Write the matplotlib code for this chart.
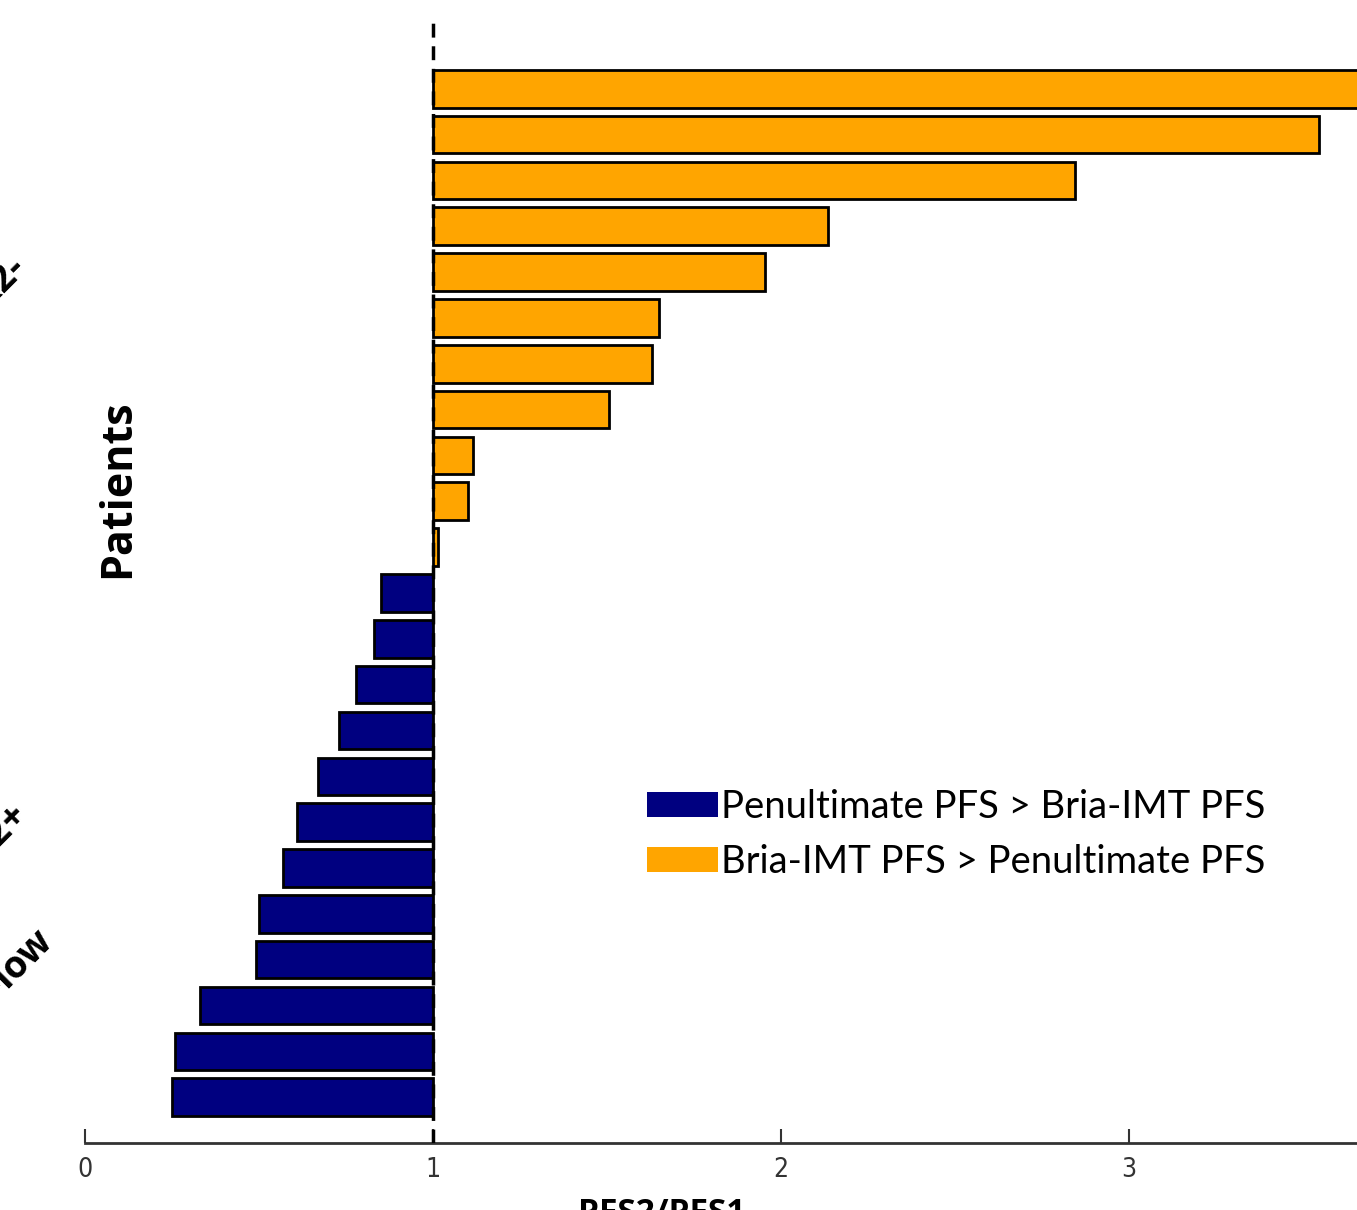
import matplotlib.pyplot as plt
from matplotlib.patches import Patch

# PFS2/PFS1 ratio per patient, bottom bar first
ratio_worse = [0.25, 0.26, 0.33, 0.49, 0.50, 0.57, 0.61, 0.67, 0.73, 0.78, 0.83, 0.85]
ratio_better = [1.014, 1.10, 1.115, 1.505, 1.63, 1.65, 1.955, 2.135, 2.845, 3.545, 3.80]

x_ticks = [0, 1, 2, 3]
legend_labels = ['Penultimate PFS > Bria-IMT PFS', 'Bria-IMT PFS > Penultimate PFS']
group_labels = ['HER2-', 'HER2+', 'HER2-low']

blue = '#000080'
orange = '#FFA500'

plt.rcParams['font.family'] = ['Lato', 'DejaVu Sans']

fig = plt.figure(figsize=(13.57, 12.10), dpi=100)
ax = fig.add_axes([85 / 1357, 67 / 1210, 1272 / 1357, 1123 / 1210])

n_worse = len(ratio_worse)
ypos_worse = list(range(n_worse))
ypos_better = list(range(n_worse, n_worse + len(ratio_better)))

ax.barh(ypos_worse, [r - 1 for r in ratio_worse], left=1, height=0.82,
        color=blue, edgecolor='black', linewidth=2, zorder=2)
ax.barh(ypos_better, [r - 1 for r in ratio_better], left=1, height=0.82,
        color=orange, edgecolor='black', linewidth=2, zorder=2)

# reference line at ratio = 1
ax.axvline(1, color='black', linestyle=(0, (4, 2.5)), linewidth=2.5, zorder=3)

ax.set_xlim(0, 3.655)
ax.set_ylim(-1, 23.5)
ax.set_xticks(x_ticks)
ax.set_xticklabels([str(t) for t in x_ticks], fontsize=19, color='#333333',
                   family='DejaVu Sans', fontstretch='condensed')
ax.tick_params(axis='x', direction='in', length=10, width=1.5, color='#333333', pad=10)
ax.set_yticks([])
for side in ['top', 'right', 'left']:
    ax.spines[side].set_visible(False)
ax.spines['bottom'].set_color('#333333')
ax.spines['bottom'].set_linewidth(2)

fig.text(118 / 1357, 1 - 489 / 1210, 'Patients', rotation=90, fontsize=31,
         fontweight='bold', family='Open Sans', ha='center', va='center')
fig.text(662 / 1357, 1 - 1197 / 1210, 'PFS2/PFS1', fontsize=24,
         fontweight='bold', family='Open Sans', ha='center', va='top')

# category labels, mostly cut off at the left edge
for label, (px, py) in zip(group_labels, [(20, 260), (22, 808), (47, 934)]):
    fig.text(px / 1357, 1 - py / 1210, label, rotation=45, rotation_mode='anchor',
             fontsize=27, fontweight='bold', family='Open Sans', ha='right', va='center')

handles = [Patch(facecolor=blue, edgecolor='none'), Patch(facecolor=orange, edgecolor='none')]
ax.legend(handles, legend_labels, loc='upper left', bbox_to_anchor=(647 / 1357, 1 - 789 / 1210),
          bbox_transform=fig.transFigure, frameon=False, fontsize=27.5, handlelength=1.85,
          handleheight=0.62, handletextpad=0.08, labelspacing=0.5, borderpad=0, borderaxespad=0)

fig.savefig('out.png', dpi=100)
